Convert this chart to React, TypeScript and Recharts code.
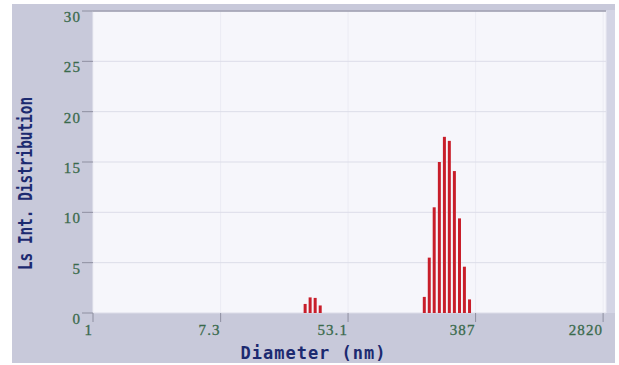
import { BarChart, Bar, XAxis, YAxis, CartesianGrid, ReferenceLine } from 'recharts';

// particle size distribution (diameter in nm, intensity in %)
const diameters = [27.2, 29.4, 31.8, 34.4, 174, 188, 203, 220, 238, 257, 278, 301, 325, 352];
const intensity = [0.9, 1.55, 1.5, 0.75, 1.6, 5.5, 10.5, 15.0, 17.5, 17.1, 14.1, 9.4, 4.6, 1.35];

const xTicks = [1, 7.3, 53.1, 387, 2820];
const yTicks = [0, 5, 10, 15, 20, 25, 30];

const data = diameters.map((d, i) => ({ d, value: intensity[i] }));

const tickFont = {
  fontFamily: '"Liberation Serif", serif',
  fontSize: 15,
  letterSpacing: 1.1,
  fill: '#3a6a4c',
  stroke: '#3a6a4c',
  strokeWidth: 0.3,
};
const titleFont = { fontFamily: '"DejaVu Sans Mono", monospace', fontWeight: 'bold' as const, fill: '#1c2a70' };

const XTick = ({ x, y, payload }: any) => (
  <text x={x} y={y + 11} textAnchor="end" {...tickFont}>
    {payload.value}
  </text>
);

const YTick = ({ x, y, payload }: any) => (
  <text x={x + 1} y={y + 11} textAnchor="end" {...tickFont}>
    {payload.value}
  </text>
);

const App = () => {
  return (
    <div style={{ position: 'absolute', left: 0, top: 0, width: 619, height: 365, background: '#fff' }}>
      {/* grey panel behind the plot */}
      <div style={{ position: 'absolute', left: 12, top: 4, width: 603, height: 359, background: '#c8c9da' }} />
      <div style={{ position: 'absolute', left: 606, top: 10, width: 9, height: 303, background: '#d4d5e5' }} />
      <div style={{ position: 'absolute', left: 0, top: 0 }}>
        <BarChart width={619} height={365} data={data} margin={{ top: 11, right: 13, left: 0, bottom: 0 }}>
          <CartesianGrid fill="#f6f6fb" stroke="#ebebf3" vertical horizontal={false} />
          <CartesianGrid stroke="#dcdde8" vertical={false} horizontal />
          <XAxis
            dataKey="d"
            type="number"
            scale="log"
            domain={[1, 2950]}
            allowDataOverflow
            ticks={xTicks}
            interval={0}
            height={52}
            axisLine={false}
            tickLine={{ stroke: '#8e8fa0' }}
            tickSize={9}
            tickMargin={2}
            tick={<XTick />}
            label={{
              content: () => (
                <text x={313.5} y={359} textAnchor="middle" fontSize={17} letterSpacing={1} {...titleFont}>
                  Diameter (nm)
                </text>
              ),
            }}
          />
          <YAxis
            type="number"
            domain={[0, 30]}
            ticks={yTicks}
            interval={0}
            width={93}
            axisLine={false}
            tickLine={{ stroke: '#8e8fa0' }}
            tickSize={11}
            tickMargin={2}
            tick={<YTick />}
            label={{
              content: () => (
                <text
                  transform="translate(32,183.5) rotate(-90) scale(0.72,1)"
                  textAnchor="middle"
                  fontSize={20}
                  {...titleFont}
                >
                  Ls Int. Distribution
                </text>
              ),
            }}
          />
          <ReferenceLine y={30} stroke="#9c9dae" strokeWidth={1.5} />
          <Bar dataKey="value" fill="#c81e2a" barSize={3} isAnimationActive={false} />
        </BarChart>
      </div>
    </div>
  );
};

export default App;
